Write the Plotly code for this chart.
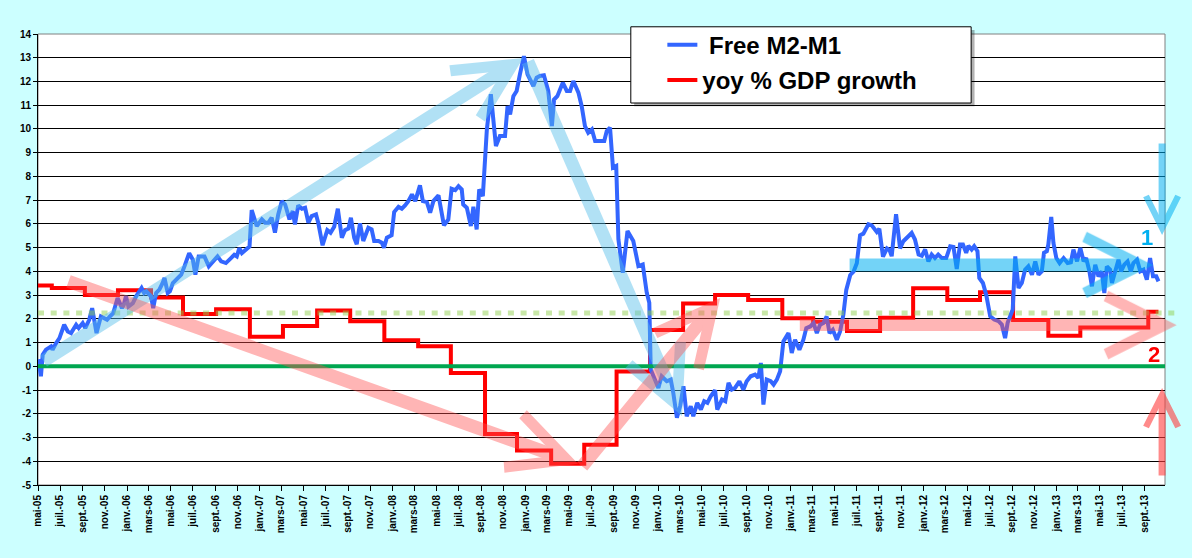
import plotly.graph_objects as go

# Free M2-M1 (roughly weekly)
m2m1_dates = [
    "2005-05-02", "2005-05-09", "2005-05-14", "2005-05-23", "2005-06-06", "2005-06-10", "2005-06-20", "2005-06-29",
    "2005-07-12", "2005-07-22", "2005-07-31", "2005-08-14", "2005-08-21", "2005-09-01", "2005-09-08", "2005-09-19",
    "2005-09-27", "2005-10-03", "2005-10-09", "2005-10-21", "2005-10-30", "2005-11-07", "2005-11-15", "2005-11-24",
    "2005-12-06", "2005-12-18", "2005-12-23", "2005-12-29",
    "2006-01-05", "2006-01-17", "2006-01-26", "2006-02-10", "2006-02-17", "2006-02-23", "2006-03-08", "2006-03-14",
    "2006-03-22", "2006-03-31", "2006-04-09", "2006-04-14", "2006-04-23", "2006-04-29", "2006-05-07", "2006-05-20",
    "2006-05-30", "2006-06-08", "2006-06-21", "2006-07-01", "2006-07-08", "2006-07-17", "2006-08-02", "2006-08-14",
    "2006-08-25", "2006-09-07", "2006-09-17", "2006-09-30", "2006-10-14", "2006-10-23", "2006-10-30", "2006-11-06",
    "2006-11-13", "2006-11-24", "2006-12-04", "2006-12-10", "2006-12-24",
    "2007-01-07", "2007-01-16", "2007-01-25", "2007-02-03", "2007-02-12", "2007-02-21", "2007-03-03", "2007-03-12",
    "2007-03-24", "2007-04-02", "2007-04-08", "2007-04-17", "2007-04-27", "2007-05-06", "2007-05-15", "2007-05-24",
    "2007-06-05", "2007-06-11", "2007-06-23", "2007-07-06", "2007-07-15", "2007-07-25", "2007-08-04", "2007-08-15",
    "2007-08-24", "2007-09-02", "2007-09-09", "2007-09-18", "2007-09-25", "2007-10-04", "2007-10-13", "2007-10-27",
    "2007-11-05", "2007-11-12", "2007-11-24", "2007-12-03", "2007-12-09", "2007-12-17", "2007-12-30",
    "2008-01-06", "2008-01-18", "2008-01-27", "2008-02-05", "2008-02-14", "2008-02-24", "2008-03-04", "2008-03-17",
    "2008-03-25", "2008-04-05", "2008-04-14", "2008-04-23", "2008-05-07", "2008-05-22", "2008-06-03", "2008-06-12",
    "2008-06-22", "2008-07-01", "2008-07-10", "2008-07-14", "2008-07-24", "2008-08-04", "2008-08-11", "2008-08-20",
    "2008-08-27", "2008-09-06", "2008-09-17", "2008-09-28", "2008-10-12", "2008-10-23", "2008-11-06", "2008-11-13",
    "2008-11-20", "2008-11-29", "2008-12-08", "2008-12-17", "2008-12-28",
    "2009-01-07", "2009-01-14", "2009-01-23", "2009-02-01", "2009-02-10", "2009-02-21", "2009-03-05", "2009-03-15",
    "2009-03-21", "2009-03-30", "2009-04-14", "2009-04-25", "2009-05-04", "2009-05-13", "2009-05-27", "2009-06-05",
    "2009-06-14", "2009-06-23", "2009-07-03", "2009-07-12", "2009-08-06", "2009-08-13", "2009-08-22", "2009-08-30",
    "2009-09-08", "2009-09-14", "2009-09-26", "2009-10-09", "2009-10-25", "2009-11-08", "2009-11-20", "2009-12-01",
    "2009-12-08", "2009-12-12", "2009-12-24",
    "2010-01-02", "2010-01-11", "2010-01-25", "2010-02-05", "2010-02-12", "2010-02-22", "2010-03-03", "2010-03-12",
    "2010-03-21", "2010-04-01", "2010-04-08", "2010-04-19", "2010-04-29", "2010-05-08", "2010-05-17", "2010-05-26",
    "2010-06-07", "2010-06-13", "2010-06-26", "2010-07-05", "2010-07-14", "2010-07-23", "2010-08-01", "2010-08-13",
    "2010-08-24", "2010-09-02", "2010-09-13", "2010-09-25", "2010-10-04", "2010-10-11", "2010-10-18", "2010-10-27",
    "2010-11-07", "2010-11-15", "2010-11-24", "2010-12-03", "2010-12-12", "2010-12-26",
    "2011-01-04", "2011-01-13", "2011-01-25", "2011-02-05", "2011-02-13", "2011-02-24", "2011-03-05", "2011-03-14",
    "2011-03-23", "2011-04-01", "2011-04-10", "2011-04-18", "2011-04-27", "2011-05-08", "2011-05-17", "2011-05-26",
    "2011-06-03", "2011-06-14", "2011-06-23", "2011-07-02", "2011-07-11", "2011-07-20", "2011-08-03", "2011-08-12",
    "2011-08-26", "2011-09-02", "2011-09-12", "2011-09-23", "2011-09-30", "2011-10-06", "2011-10-18", "2011-10-29",
    "2011-11-07", "2011-11-21", "2011-11-30", "2011-12-09", "2011-12-19", "2011-12-28",
    "2012-01-06", "2012-01-15", "2012-01-24", "2012-02-02", "2012-02-11", "2012-02-21", "2012-03-04", "2012-03-15",
    "2012-03-24", "2012-04-02", "2012-04-11", "2012-04-19", "2012-04-28", "2012-05-04", "2012-05-13", "2012-05-20",
    "2012-05-29", "2012-06-03", "2012-06-13", "2012-06-22", "2012-07-03", "2012-07-14", "2012-07-26", "2012-08-04",
    "2012-08-13", "2012-08-20", "2012-08-29", "2012-09-03", "2012-09-10", "2012-09-19", "2012-09-28", "2012-10-07",
    "2012-10-16", "2012-10-26", "2012-11-04", "2012-11-13", "2012-11-22", "2012-11-28", "2012-12-06", "2012-12-10",
    "2012-12-18", "2012-12-24",
    "2013-01-01", "2013-01-10", "2013-01-21", "2013-02-01", "2013-02-10", "2013-02-17", "2013-02-27", "2013-03-08",
    "2013-03-17", "2013-03-24", "2013-04-02", "2013-04-09", "2013-04-18", "2013-04-27", "2013-05-06", "2013-05-13",
    "2013-05-20", "2013-05-29", "2013-06-03", "2013-06-12", "2013-06-21", "2013-06-28", "2013-07-07", "2013-07-16",
    "2013-07-25", "2013-08-01", "2013-08-11", "2013-08-20", "2013-08-29", "2013-09-07", "2013-09-16", "2013-09-24",
    "2013-10-03", "2013-10-09",
]
m2m1_values = [
    0.30, -0.42, 0.49, 0.70, 0.84, 0.70, 0.98, 1.19,
    1.75, 1.47, 1.40, 1.75, 1.61, 1.82, 1.61, 1.96,
    2.45, 1.96, 1.40, 2.10, 2.03, 1.96, 2.10, 2.24,
    2.88, 2.45, 2.59, 2.95,
    2.52, 2.66, 2.95, 3.30, 3.09, 3.16, 2.95, 2.45,
    3.09, 3.23, 3.51, 3.72, 3.09, 3.16, 3.51, 3.72,
    3.86, 4.21, 4.77, 4.49, 3.86, 4.63, 4.63, 4.21,
    4.42, 4.63, 4.42, 4.35, 4.56, 4.70, 4.63, 4.98,
    4.77, 4.91, 5.05, 6.58, 5.91,
    6.19, 6.05, 6.05, 6.26, 5.63, 6.40, 6.96, 6.82,
    6.19, 6.54, 5.98, 6.78, 6.64, 6.68, 6.05, 6.33,
    6.40, 6.05, 5.10, 5.74, 5.63, 5.88, 6.64, 5.42,
    5.74, 5.80, 6.26, 5.42, 5.14, 6.02, 5.28, 5.84,
    5.77, 5.28, 5.28, 5.21, 5.00, 5.42, 5.52,
    6.50, 6.72, 6.64, 6.78, 6.96, 7.24, 6.96, 7.62,
    6.96, 6.92, 6.47, 6.96, 7.20, 5.94, 6.19, 7.48,
    7.42, 7.59, 7.45, 6.82, 6.68, 5.91, 6.72, 5.77,
    7.45, 7.17, 9.97, 11.46, 9.28, 9.70, 9.70, 10.96,
    10.61, 11.38, 11.60, 12.30, 13.07,
    12.30, 12.09, 11.81, 12.16, 12.23, 12.26, 11.60, 10.12,
    11.24, 11.38, 11.95, 11.60, 11.60, 12.02, 11.53, 10.96,
    10.12, 9.84, 9.98, 9.49, 9.49, 9.91, 10.05, 8.37,
    8.44, 5.35, 3.94, 5.70, 5.28, 4.22, 4.29, 3.10,
    2.68, -0.14, -0.56,
    -0.91, -0.42, -0.63, -0.56, -1.12, -2.17, -1.68, -0.84,
    -2.10, -1.68, -2.10, -1.54, -1.82, -1.47, -1.54, -1.26,
    -1.01, -1.82, -1.40, -1.47, -0.70, -0.98, -0.91, -0.63,
    -0.98, -0.63, -0.42, -0.35, -0.49, 0.14, -1.61, -0.56,
    -0.63, -0.77, -0.56, -0.21, 1.05, 1.40,
    0.56, 1.12, 0.70, 1.12, 1.61, 1.68, 1.82, 1.40,
    1.75, 1.82, 2.10, 1.40, 1.54, 1.12, 1.47, 2.17,
    3.22, 3.85, 3.99, 4.34, 5.52, 5.59, 5.99, 5.94,
    5.66, 5.80, 4.62, 4.97, 4.90, 4.64, 6.41, 4.97,
    5.27, 5.48, 5.62, 5.34, 4.71, 4.66,
    4.92, 4.42, 4.71, 4.56, 4.71, 4.56, 4.56, 5.06,
    5.03, 4.10, 5.13, 5.13, 4.78, 5.08, 4.92, 5.06,
    4.85, 3.72, 3.51, 3.02, 2.11, 1.97, 1.90, 1.76,
    1.19, 1.83, 2.25, 2.39, 4.63, 3.30, 3.51, 4.07,
    4.21, 3.86, 4.42, 3.86, 4.00, 4.78, 4.85, 5.13,
    6.29, 5.20,
    4.56, 4.35, 4.56, 4.35, 4.38, 4.92, 4.42, 4.99,
    4.42, 4.56, 4.00, 3.37, 4.28, 3.79, 4.00, 3.09,
    4.21, 4.07, 3.51, 4.07, 4.49, 4.00, 4.28, 4.42,
    4.00, 4.35, 4.49, 4.00, 4.07, 3.65, 4.56, 3.79,
    3.79, 3.58,
]

# yoy % GDP growth, quarterly steps (date the new value starts)
gdp_dates = [
    "2005-05-01", "2005-06-08", "2005-09-07", "2005-12-07", "2006-03-08", "2006-06-04", "2006-09-03", "2006-12-05",
    "2007-03-06", "2007-06-08", "2007-09-07", "2007-12-10", "2008-03-12", "2008-06-10", "2008-09-12", "2008-12-09",
    "2009-03-13", "2009-06-12", "2009-09-09", "2009-12-10", "2010-03-11", "2010-06-07", "2010-09-06", "2010-12-09",
    "2011-03-04", "2011-06-05", "2011-09-04", "2011-12-04", "2012-03-07", "2012-06-05", "2012-09-04", "2012-12-10",
    "2013-03-08", "2013-09-11", "2013-10-09",
]
gdp_values = [
    3.4, 3.3, 3.0, 3.2, 2.9, 2.2, 2.4, 1.25,
    1.7, 2.35, 1.9, 1.1, 0.85, -0.28, -2.85, -3.55,
    -4.1, -3.3, -0.22, 1.53, 2.65, 3.0, 2.79, 2.02,
    1.88, 1.49, 2.05, 3.29, 2.79, 3.12, 1.95, 1.29,
    1.63, 2.3, 2.3,
]

TREND_LEVEL = 2.25

X_RANGE = ["2005-05-01", "2013-10-27"]
Y_MIN, Y_MAX = -5, 14

MONTH_ABBR = {1: "janv.", 3: "mars", 5: "mai", 7: "juil.", 9: "sept.", 11: "nov."}
tick_vals, tick_text = [], []
for year in range(2005, 2014):
    for month in (1, 3, 5, 7, 9, 11):
        if (2005, 5) <= (year, month) <= (2013, 9):
            tick_vals.append(f"{year}-{month:02d}-01")
            tick_text.append(f"{MONTH_ABBR[month]}-{year % 100:02d}")

y_ticks = list(range(Y_MIN, Y_MAX + 1))

BLUE_SOFT = "rgba(85,190,235,0.45)"
BLUE_STRONG = "rgba(0,176,240,0.55)"
RED_SOFT = "rgba(255,80,80,0.42)"
RED_STRONG = "rgba(255,60,60,0.6)"

# decorative arrows: tail (date, value) -> tip (date, value)
arrows = [
    ("2005-05-12", 0.18, "2008-12-26", 12.99, BLUE_SOFT, 13, 0.85),
    ("2009-01-06", 12.9, "2010-03-08", -2.09, BLUE_SOFT, 13, 0.85),
    ("2011-06-08", 4.27, "2013-09-24", 4.27, BLUE_STRONG, 13, 0.85),
    ("2013-10-19", 9.45, "2013-10-19", 5.53, BLUE_STRONG, 7, 0.9),
    ("2005-07-20", 3.6, "2009-05-26", -4.11, RED_SOFT, 13, 0.85),
    ("2009-06-03", -4.28, "2010-06-21", 2.88, RED_SOFT, 13, 0.85),
    ("2011-01-22", 1.74, "2013-11-28", 1.74, RED_SOFT, 12, 0.95),
    ("2013-10-19", -4.66, "2013-10-19", -0.91, RED_STRONG, 7, 0.9),
]

FONT = "Arial, Liberation Sans, sans-serif"

fig = go.Figure()

fig.add_trace(go.Scatter(
    x=gdp_dates, y=gdp_values, mode="lines", name="yoy % GDP growth",
    line=dict(color="#FF0000", width=4, shape="hv"),
    legendrank=2, legendgroup="gdp",
))
fig.add_trace(go.Scatter(
    x=m2m1_dates, y=m2m1_values, mode="lines", name="\u00a0Free M2-M1",
    line=dict(color="#3366FF", width=4),
    legendrank=1, legendgroup="m2",
))

trend_y = (TREND_LEVEL - Y_MIN) / (Y_MAX - Y_MIN)
shapes = [
    # gray frame round the plot area
    dict(type="rect", xref="paper", yref="paper", x0=0, x1=1, y0=0, y1=1,
         line=dict(color="#808080", width=1), layer="below"),
    # zero line
    dict(type="line", xref="paper", yref="y", x0=0, x1=1, y0=0, y1=0,
         line=dict(color="#00A650", width=4), layer="above"),
    # dotted trend level
    dict(type="line", xref="paper", yref="paper", x0=0, x1=1.013, y0=trend_y, y1=trend_y,
         line=dict(color="rgba(146,208,80,0.5)", width=5, dash="6px,6.7px"), layer="above"),
    # legend box shadow and box
    dict(type="rect", xref="paper", yref="paper", x0=0.529, x1=0.831, y0=0.840, y1=1.009,
         line=dict(width=0), fillcolor="rgba(0,0,0,0.3)", layer="above"),
    dict(type="rect", xref="paper", yref="paper", x0=0.526, x1=0.828, y0=0.847, y1=1.016,
         line=dict(color="black", width=1), fillcolor="white", layer="above"),
]

annotations = []
for tx, ty, hx, hy, color, width, size in arrows:
    annotations.append(dict(
        x=hx, y=hy, ax=tx, ay=ty, xref="x", yref="y", axref="x", ayref="y",
        text="", showarrow=True, arrowhead=5, arrowwidth=width, arrowsize=size,
        arrowcolor=color, standoff=0,
    ))
annotations.append(dict(x="2013-09-08", y=5.41, xref="x", yref="y", text="<b>1</b>", showarrow=False,
                        font=dict(family=FONT, size=22, color="#00B0F0")))
annotations.append(dict(x="2013-09-27", y=0.48, xref="x", yref="y", text="<b>2</b>", showarrow=False,
                        font=dict(family=FONT, size=22, color="#FF0000")))

fig.update_layout(
    width=1192, height=558,
    paper_bgcolor="#CCFFFF", plot_bgcolor="white",
    margin=dict(l=38, r=27, t=34, b=73, autoexpand=False),
    font=dict(family=FONT, size=10, color="black"),
    shapes=shapes, annotations=annotations,
    showlegend=True,
    legend=dict(
        x=0.554, y=1.025, xanchor="left", yanchor="top",
        bgcolor="rgba(0,0,0,0)", borderwidth=0,
        font=dict(family=FONT, size=24, color="black", weight="bold"),
        tracegroupgap=1, itemwidth=30,
    ),
    xaxis=dict(
        type="date", range=X_RANGE, tickvals=tick_vals, ticktext=tick_text,
        tickangle=-90, ticks="outside", ticklen=5, tickcolor="black",
        showgrid=False, zeroline=False, showline=True, linecolor="black", linewidth=1,
        tickfont=dict(family=FONT, size=10, color="black", weight="bold"),
    ),
    yaxis=dict(
        range=[Y_MIN, Y_MAX], tickvals=y_ticks, ticktext=[str(v) for v in y_ticks],
        ticks="outside", ticklen=4, tickcolor="black",
        showgrid=True, gridcolor="black", gridwidth=1, zeroline=False,
        showline=True, linecolor="black", linewidth=1,
        tickfont=dict(family=FONT, size=10, color="black", weight="bold"),
    ),
)

# page margin off so the figure sits at the window's top-left corner
fig.write_html(
    "out.html",
    config={"displayModeBar": False},
    post_script="document.body.style.margin='0';document.body.style.background='#CCFFFF';",
)
